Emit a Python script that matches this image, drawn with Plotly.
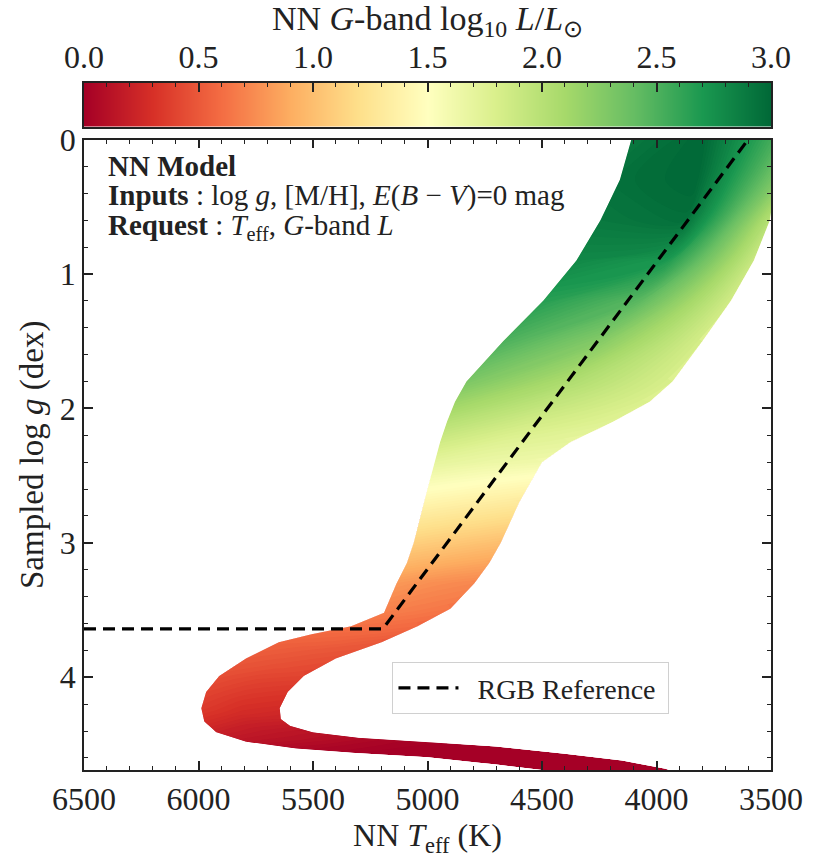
import plotly.graph_objects as go

# ---------------- data ----------------
# Red-giant-branch part of the band: cross-sections at constant log g
rgb_logg = [0.0, 0.3, 0.6, 0.9, 1.2, 1.5, 1.8, 1.95, 2.1, 2.25, 2.4, 2.55, 2.7, 2.85, 3.0, 3.15, 3.3]
rgb_teff_outer = [4110, 4160, 4245, 4350, 4495, 4670, 4830, 4880, 4915, 4945, 4970, 4992, 5015, 5037, 5060, 5090, 5135]
rgb_teff_mid = [3800, 3830, 3880, 3960, 4080, 4240, 4380, 4460, 4560, 4670, 4735, 4775, 4810, 4840, 4870, 4910, 4965]
rgb_teff_inner = [3470, 3480, 3505, 3575, 3675, 3800, 3930, 4030, 4190, 4375, 4500, 4550, 4600, 4640, 4680, 4730, 4795]
rgb_L_outer = [2.9, 2.95, 2.9, 2.8, 2.65, 2.5, 2.3, 2.15, 2.0, 1.85, 1.7, 1.55, 1.4, 1.25, 1.1, 0.95, 0.8]
rgb_L_mid = [3.0, 3.0, 2.95, 2.7, 2.45, 2.25, 2.05, 1.95, 1.85, 1.75, 1.65, 1.5, 1.35, 1.2, 1.05, 0.9, 0.75]
rgb_L_inner = [2.5, 2.3, 2.0, 1.9, 1.85, 1.82, 1.8, 1.78, 1.75, 1.7, 1.62, 1.45, 1.3, 1.15, 1.0, 0.86, 0.72]

# Subgiant / turn-off / main-sequence part of the band (points along the tracks)
sg_teff_outer = [5190, 5334, 5507, 5650, 5793, 5910, 5967, 5988, 5975, 5923, 5793, 5577, 5300, 5000, 4700, 4400, 4100, 3930]
sg_logg_outer = [3.52, 3.62, 3.68, 3.74, 3.86, 3.99, 4.11, 4.23, 4.33, 4.41, 4.48, 4.53, 4.565, 4.595, 4.65, 4.71, 4.76, 4.80]
sg_teff_mid = [5045, 5190, 5355, 5525, 5665, 5760, 5805, 5815, 5790, 5715, 5545, 5340, 5125, 4850, 4550, 4275, 4030, 3930]
sg_logg_mid = [3.505, 3.62, 3.71, 3.80, 3.92, 4.05, 4.17, 4.27, 4.35, 4.41, 4.465, 4.50, 4.525, 4.555, 4.61, 4.665, 4.72, 4.75]
sg_teff_inner = [4900, 5043, 5200, 5400, 5540, 5610, 5645, 5640, 5600, 5500, 5300, 5100, 4950, 4700, 4400, 4150, 3960, 3930]
sg_logg_inner = [3.49, 3.62, 3.74, 3.86, 3.99, 4.11, 4.23, 4.31, 4.36, 4.41, 4.45, 4.47, 4.485, 4.515, 4.57, 4.62, 4.68, 4.70]
sg_L_outer = [0.68, 0.62, 0.58, 0.55, 0.5, 0.45, 0.4, 0.35, 0.28, 0.2, 0.12, 0.05, 0, 0, 0, 0, 0, 0]
sg_L_mid = [0.66, 0.6, 0.55, 0.5, 0.45, 0.38, 0.32, 0.27, 0.2, 0.15, 0.1, 0.04, 0, 0, 0, 0, 0, 0]
sg_L_inner = [0.64, 0.58, 0.5, 0.45, 0.4, 0.33, 0.27, 0.22, 0.17, 0.12, 0.07, 0.02, 0, 0, 0, 0, 0, 0]

# RGB reference (dashed line)
ref_teff = [6500, 5195, 3600]
ref_logg = [3.64, 3.64, 0.0]

# colour bar
cbar_range = [0.0, 3.0]

# axis limits
teff_range = [6500, 3500]
logg_range = [4.69, 0]

SERIF = "Liberation Serif"
FS = 32

# ---------------- build carpet grid from the arrays ----------------
x_grid, y_grid, z_grid = [], [], []
for i in range(len(rgb_logg)):
    x_grid.append([rgb_teff_outer[i], rgb_teff_mid[i], rgb_teff_inner[i]])
    y_grid.append([rgb_logg[i], rgb_logg[i], rgb_logg[i]])
    z_grid.append([rgb_L_outer[i], rgb_L_mid[i], rgb_L_inner[i]])
for i in range(len(sg_teff_outer)):
    x_grid.append([sg_teff_outer[i], sg_teff_mid[i], sg_teff_inner[i]])
    y_grid.append([sg_logg_outer[i], sg_logg_mid[i], sg_logg_inner[i]])
    z_grid.append([sg_L_outer[i], sg_L_mid[i], sg_L_inner[i]])

a_idx = list(range(3))
b_idx = list(range(len(x_grid)))

fig = go.Figure()

hidden_axis = dict(showgrid=False, showline=False, showticklabels="none",
                   startline=False, endline=False, minorgridcount=0,
                   smoothing=0)
fig.add_trace(go.Carpet(
    a=a_idx, b=b_idx, x=x_grid, y=y_grid, carpet="band",
    aaxis=hidden_axis, baxis=hidden_axis,
    xaxis="x", yaxis="y",
))
fig.add_trace(go.Contourcarpet(
    a=a_idx, b=b_idx, z=z_grid, carpet="band",
    colorscale="RdYlGn", zmin=cbar_range[0], zmax=cbar_range[1],
    autocontour=False,
    contours=dict(start=0.0, end=3.0, size=0.02, coloring="fill", showlines=False),
    line=dict(width=0), showscale=False, showlegend=False,
    xaxis="x", yaxis="y",
))

# white masks outside the band edges (keeps the fill inside the band outline)
pad_lo_t, pad_hi_t = teff_range[1] - 300, teff_range[0] + 300
pad_top, pad_bot = logg_range[1] - 0.3, logg_range[0] + 0.4
inner_x = rgb_teff_inner + sg_teff_inner
inner_y = rgb_logg + sg_logg_inner
outer_x = rgb_teff_outer + sg_teff_outer
outer_y = rgb_logg + sg_logg_outer
mask_right_x = [inner_x[0]] + inner_x + [inner_x[-1], pad_lo_t, pad_lo_t, inner_x[0]]
mask_right_y = [pad_top] + inner_y + [pad_bot, pad_bot, pad_top, pad_top]
mask_left_x = [outer_x[0]] + outer_x + [outer_x[-1], pad_hi_t, pad_hi_t, outer_x[0]]
mask_left_y = [pad_top] + outer_y + [pad_bot, pad_bot, pad_top, pad_top]
for mx, my in ((mask_right_x, mask_right_y), (mask_left_x, mask_left_y)):
    fig.add_trace(go.Scatter(
        x=mx, y=my, mode="lines", fill="toself", fillcolor="white",
        line=dict(width=0, color="white"), hoverinfo="skip", showlegend=False,
        xaxis="x", yaxis="y",
    ))

fig.add_trace(go.Scatter(
    x=ref_teff, y=ref_logg, mode="lines", name="\u00a0\u00a0RGB Reference\u00a0",
    line=dict(color="black", width=3.2, dash="12px,7px"),
    xaxis="x", yaxis="y",
))

# colour bar drawn as a smoothed heatmap on its own axes
fig.add_trace(go.Heatmap(
    z=[cbar_range, cbar_range], x=cbar_range, y=[0, 1],
    colorscale="RdYlGn", zmin=cbar_range[0], zmax=cbar_range[1],
    zsmooth="best", showscale=False, hoverinfo="skip",
    xaxis="x2", yaxis="y2",
))

frame = dict(showline=True, linecolor="#222", linewidth=1.6, mirror="ticks",
             showgrid=False, zeroline=False, ticks="inside", ticklen=9,
             tickwidth=1.5, tickcolor="#222", layer="above traces")

fig.update_layout(
    width=815, height=858,
    margin=dict(l=84, r=39, t=83, b=82),
    plot_bgcolor="white", paper_bgcolor="white",
    font=dict(family=SERIF, size=FS, color="#222"),
    xaxis=dict(
        domain=[0, 1], anchor="y", range=teff_range,
        tick0=3500, dtick=500,
        minor=dict(ticks="inside", ticklen=4.5, dtick=100, tickwidth=1, tickcolor="#222"),
        title=dict(text="NN <i>T</i><sub>eff</sub> (K)", font=dict(size=FS), standoff=6),
        tickfont=dict(size=FS),
        **frame,
    ),
    yaxis=dict(
        domain=[0, 0.9177], anchor="x", range=logg_range,
        tick0=0, dtick=1,
        minor=dict(ticks="inside", ticklen=4.5, dtick=0.2, tickwidth=1, tickcolor="#222"),
        title=dict(text="Sampled log <i>g</i> (dex)", font=dict(size=33), standoff=6),
        tickfont=dict(size=FS),
        **frame,
    ),
    xaxis2=dict(
        domain=[0, 1], anchor="y2", range=cbar_range, side="top",
        tick0=0, dtick=0.5, tickformat=".1f",
        showline=True, linecolor="#222", linewidth=1.6, mirror=True,
        showgrid=False, zeroline=False, ticks="inside", ticklen=9,
        tickwidth=1.5, tickcolor="#222",
        minor=dict(ticks="inside", ticklen=4.5, dtick=0.1, tickwidth=1, tickcolor="#222"),
        title=dict(text="NN <i>G</i>-band log<sub>10</sub> <i>L</i>/<i>L</i><sub>⊙</sub>",
                   font=dict(size=34), standoff=2),
        tickfont=dict(size=FS),
    ),
    yaxis2=dict(
        domain=[0.9365, 1.0], anchor="x2", range=[0, 1],
        showticklabels=False, ticks="", showgrid=False, zeroline=False,
        showline=True, linecolor="#222", linewidth=1.6, mirror=True,
    ),
    showlegend=True,
    legend=dict(
        x=0.449, y=0.157, xanchor="left", yanchor="top",
        bgcolor="rgba(255,255,255,0.9)", bordercolor="#d0d0d0", borderwidth=1,
        font=dict(family=SERIF, size=28, color="#222"), itemwidth=60,
    ),
)

notes = [
    "<b>NN Model</b>",
    "<b>Inputs</b> : log <i>g</i>, [M/H], <i>E</i>(<i>B</i> − <i>V</i>)=0 mag",
    "<b>Request</b> : <i>T</i><sub>eff</sub>, <i>G</i>-band <i>L</i>",
]
for k, t in enumerate(notes):
    fig.add_annotation(
        text=t, xref="paper", yref="paper", x=0.032, y=0.905 - k * 0.0425,
        xanchor="left", yanchor="top", align="left", showarrow=False,
        font=dict(family=SERIF, size=29, color="#222"),
    )

fig.write_html("out.html")
